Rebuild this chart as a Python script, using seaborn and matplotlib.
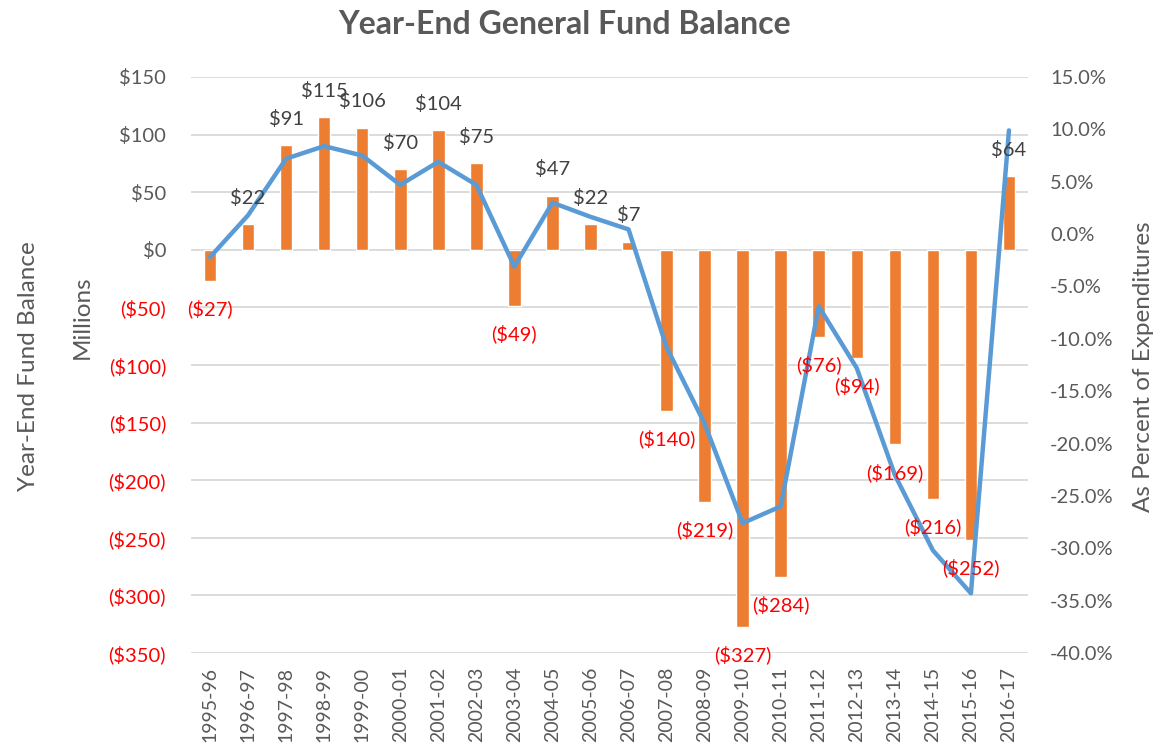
import matplotlib
matplotlib.use("Agg")
import matplotlib.pyplot as plt
import seaborn as sns
import pandas as pd

# fiscal years on the x axis
years = ["1995-96", "1996-97", "1997-98", "1998-99", "1999-00", "2000-01",
         "2001-02", "2002-03", "2003-04", "2004-05", "2005-06", "2006-07",
         "2007-08", "2008-09", "2009-10", "2010-11", "2011-12", "2012-13",
         "2013-14", "2014-15", "2015-16", "2016-17"]

# year-end fund balance, $ millions (bars)
balance = [-27, 22, 91, 115, 106, 70, 104, 75, -49, 47, 22, 7,
           -140, -219, -327, -284, -76, -94, -169, -216, -252, 64]

# balance as percent of expenditures (line)
pct_exp = [-2.2, 1.8, 7.2, 8.4, 7.5, 4.7, 6.9, 4.7, -3.1, 3.0, 1.65, 0.45,
           -10.8, -18.1, -27.6, -26.0, -6.9, -12.8, -23.0, -30.2, -34.3, 9.9]

left_ticks = list(range(-350, 151, 50))
right_ticks = list(range(-40, 16, 5))

sns.set_theme(style="white")
plt.rcParams["font.family"] = ["Lato", "DejaVu Sans"]

df = pd.DataFrame({"year": years, "balance": balance, "pct": pct_exp})

W, H = 1157, 752
fig = plt.figure(figsize=(W / 100, H / 100), dpi=100)
ax = fig.add_axes([191 / W, 1 - 653 / H, (1028 - 191) / W, (653 - 77) / H])

sns.barplot(data=df, x="year", y="balance", color="#ED7D31", saturation=1,
            width=0.33, ax=ax)
ax2 = ax.twinx()
sns.pointplot(data=df, x="year", y="pct", color="#5B9BD5", markers="",
              linewidth=3.2, errorbar=None, ax=ax2)

grey = "#595959"

# left axis
ax.set_ylim(-350, 150)
ax.set_yticks(left_ticks)
ax.set_yticklabels([f"${v}" if v >= 0 else f"(${-v})" for v in left_ticks])
for lab, v in zip(ax.get_yticklabels(), left_ticks):
    lab.set_color(grey if v >= 0 else "#FF0000")
ax.tick_params(axis="y", length=0, pad=18, labelsize=14.5)
ax.yaxis.grid(True, color="#D9D9D9", linewidth=1.3)
ax.set_axisbelow(True)
ax.set_ylabel("")
ax.set_xlabel("")
ax.tick_params(axis="x", length=0, pad=10, labelsize=14, labelcolor=grey,
               labelrotation=90)

# right axis
ax2.set_ylim(-40, 15)
ax2.set_yticks(right_ticks)
ax2.set_yticklabels([f"{v:.1f}%" for v in right_ticks])
ax2.tick_params(axis="y", length=0, pad=16, labelsize=14.5, labelcolor=grey)
ax2.set_ylabel("")
ax2.set_xlabel("")
ax2.grid(False)

for a in (ax, ax2):
    for s in a.spines.values():
        s.set_visible(False)

# data labels on top of everything
for i, v in enumerate(balance):
    if v >= 0:
        txt, off, col = f"${v}", 19, "#404040"
    else:
        txt, off, col = f"(${-v})", -20, "#FF0000"
    ax2.annotate(txt, xy=(i, v), xycoords=ax.transData, xytext=(0, off),
                 textcoords="offset points", ha="center", va="center",
                 color=col, fontsize=14.5)

fig.text(565 / W, 1 - 24 / H, "Year-End General Fund Balance", ha="center",
         va="center", fontsize=23, fontweight="bold", color=grey)
fig.text(29 / W, 1 - 366 / H, "Year-End Fund Balance", rotation=90,
         ha="center", va="center", fontsize=17.5, color=grey)
fig.text(82 / W, 1 - 317 / H, "Millions", rotation=90,
         ha="center", va="center", fontsize=17.5, color=grey)
fig.text(1143 / W, 1 - 367 / H, "As Percent of Expenditures", rotation=90,
         ha="center", va="center", fontsize=17.5, color=grey)

fig.savefig("out.png", dpi=100, facecolor="white")
